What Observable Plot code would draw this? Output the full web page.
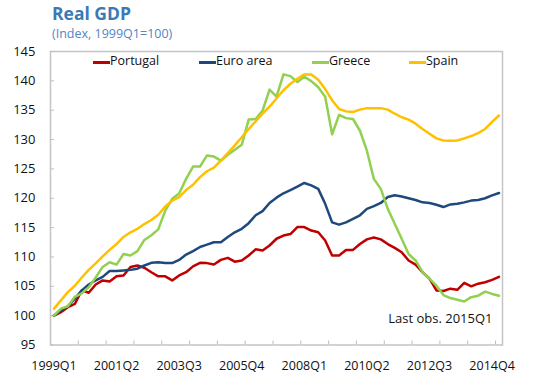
<!DOCTYPE html>
<html>
<head>
<meta charset="utf-8">
<script src="https://cdn.jsdelivr.net/npm/d3@7"></script>
<script src="https://cdn.jsdelivr.net/npm/@observablehq/plot@0.6"></script>
<style>
  body { margin: 0; background: #fff; font-family: "Open Sans", sans-serif; }
  #wrap { position: relative; width: 540px; height: 375px; overflow: hidden; }
  #title { position: absolute; left: 52px; top: 4.5px; font-size: 17.5px; line-height: 17.5px; font-weight: bold; color: #3b78b6; white-space: nowrap; }
  #sub { position: absolute; left: 52px; top: 28px; font-size: 12.5px; line-height: 12.5px; color: #4f86c6; white-space: nowrap; }
  .sw { position: absolute; top: 61px; width: 17px; height: 3px; }
  .lt { position: absolute; top: 51.5px; font-size: 12.5px; line-height: 17px; color: #111; white-space: nowrap; }
  #chart { position: absolute; left: 0; top: 0; }
</style>
</head>
<body>
<div id="wrap">
  <div id="chart"></div>
  <div id="title">Real GDP</div>
  <div id="sub">(Index, 1999Q1=100)</div>
  <div id="legend"></div>
</div>
<script>
// ---- data ----
const startYear = 1999;
const nQuarters = 65; // 1999Q1 .. 2015Q1
const quarters = d3.range(nQuarters).map(i => `${startYear + Math.floor(i / 4)}Q${(i % 4) + 1}`);

const seriesNames = ["Portugal", "Euro area", "Greece", "Spain"];
const seriesColors = ["#c00000", "#1f497d", "#92d050", "#ffc000"];

const portugal = [100,100.6,101.45,102.0,104.3,103.9,105.3,106.0,105.8,106.7,
  106.85,108.3,108.55,108.15,107.4,106.7,106.7,106.0,106.85,107.4,
  108.4,109.0,108.95,108.7,109.5,109.85,109.2,109.4,110.25,111.3,
  111.1,111.95,113.1,113.65,113.9,115.1,115.1,114.5,114.2,112.8,
  110.25,110.25,111.2,111.2,112.2,113.0,113.3,113.0,112.2,111.55,
  110.8,109.4,108.7,107.4,106.3,104.3,104.2,104.6,104.4,105.6,
  105.0,105.45,105.7,106.1,106.6];

const euroArea = [100,100.9,101.6,102.9,104.3,105.3,106.0,106.6,107.6,107.6,
  107.7,107.8,108.0,108.55,109.0,109.1,108.95,108.95,109.5,110.4,
  111.0,111.7,112.1,112.5,112.5,113.4,114.2,114.8,115.75,117.1,
  117.8,119.2,120.1,120.85,121.4,122.0,122.6,122.2,121.6,119.05,
  115.9,115.5,115.9,116.5,117.1,118.2,118.65,119.2,120.2,120.5,
  120.3,120.0,119.7,119.3,119.2,118.9,118.5,118.95,119.05,119.3,
  119.6,119.7,120.0,120.5,120.9];

const greece = [100,101.2,101.6,103.2,103.8,104.85,106.5,108.3,109.1,108.7,
  110.5,110.25,111.0,112.9,113.7,114.7,117.9,119.9,120.8,123.3,
  125.4,125.4,127.3,127.1,126.4,127.4,128.25,129.1,133.4,133.5,
  134.95,138.5,137.3,141.1,140.8,139.8,140.7,139.95,138.9,137.3,
  130.9,134.2,133.65,133.5,131.5,128.1,123.3,121.6,118.2,115.65,
  113.1,110.5,109.4,107.4,106.3,105.1,103.5,103.0,102.7,102.4,
  103.15,103.4,104.1,103.7,103.4];

const spain = [101.2,102.6,104.0,105.1,106.5,107.8,108.9,110.1,111.2,112.2,
  113.4,114.2,114.8,115.6,116.3,117.2,118.6,119.6,120.2,121.4,
  122.3,123.6,124.6,125.2,126.4,127.7,129.0,130.4,131.8,133.1,
  134.4,135.6,137.0,138.4,139.5,140.35,141.1,141.1,140.2,138.6,
  136.7,135.2,134.8,134.7,135.1,135.35,135.35,135.35,135.1,134.4,
  133.8,133.4,132.7,131.8,131.0,130.2,129.85,129.8,129.85,130.2,
  130.6,131.1,131.8,133.0,134.1];

const yTicks = [95,100,105,110,115,120,125,130,135,140,145];
const xTickLabels = ["1999Q1","2001Q2","2003Q3","2005Q4","2008Q1","2010Q2","2012Q3","2014Q4"];
const caption = "Last obs. 2015Q1";

// ---- table ----
const seriesValues = [portugal, euroArea, greece, spain];
const rows = [];
seriesNames.forEach((name, s) => {
  seriesValues[s].forEach((v, i) => rows.push({series: name, i, v}));
});
const labelIdx = xTickLabels.map(l => quarters.indexOf(l));
const minorTicks = d3.range(3.5, nQuarters, 4);

const chart = Plot.plot({
  width: 540,
  height: 375,
  marginLeft: 50,
  marginRight: 38,
  marginTop: 51,
  marginBottom: 30.5,
  style: {fontFamily: "Open Sans", color: "#111", background: "transparent", overflow: "visible"},
  x: {domain: [-0.5, nQuarters - 0.5]},
  y: {domain: [95, 145]},
  color: {domain: seriesNames, range: seriesColors},
  marks: [
    Plot.frame({stroke: "#c4c4c4", strokeWidth: 1.5}),
    Plot.axisY({ticks: yTicks, tickSize: 0, tickPadding: 15, fontSize: 13, label: null}),
    Plot.axisY({ticks: yTicks, tickSize: -4, tickFormat: () => "", stroke: "#bfbfbf", label: null}),
    Plot.axisX({ticks: labelIdx, tickSize: 0, tickPadding: 16, fontSize: 12.5, tickFormat: i => quarters[i], label: null}),
    Plot.axisX({ticks: minorTicks, tickSize: -4, tickFormat: () => "", stroke: "#bfbfbf", label: null}),
    Plot.line(rows, {x: "i", y: "v", z: "series", stroke: "series", strokeWidth: 2.5}),
    Plot.text([caption], {frameAnchor: "bottom-right", textAnchor: "end", dx: -10, dy: -22, fontSize: 13, fill: "#111"})
  ]
});
document.getElementById("chart").appendChild(chart);

// ---- legend (HTML) ----
const legendLeft = [93, 199, 312, 409];
const legend = document.getElementById("legend");
seriesNames.forEach((name, s) => {
  const sw = document.createElement("div");
  sw.className = "sw";
  sw.style.left = legendLeft[s] + "px";
  sw.style.background = seriesColors[s];
  legend.appendChild(sw);
  const t = document.createElement("div");
  t.className = "lt";
  t.style.left = (legendLeft[s] + 17) + "px";
  t.textContent = name;
  legend.appendChild(t);
});
</script>
</body>
</html>
